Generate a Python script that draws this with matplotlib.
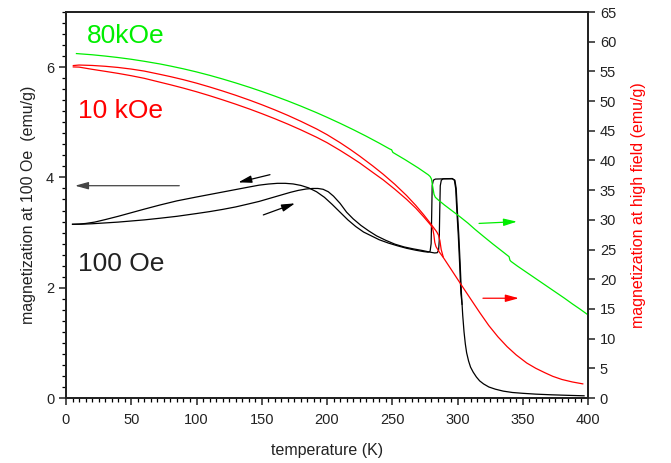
import numpy as np
import matplotlib
matplotlib.use("Agg")
from matplotlib import pyplot as plt
from matplotlib.ticker import MultipleLocator

plt.rcParams['font.family'] = ['Liberation Sans', 'DejaVu Sans']

# DATA ---------------------------------------------------------------
# 100 Oe, cooling branch (left axis)
t_cool = [5, 10, 15, 22, 30, 40, 50, 60, 72, 85, 100, 110, 120, 130, 140, 148,
          155, 162, 168, 174, 180, 186, 192, 198, 204, 210, 216, 222, 228, 234,
          240, 247, 254, 261, 268, 274, 277.5, 279, 279.8, 280.2, 280.6, 281.5,
          283, 290, 296, 298, 299, 300, 301, 302, 303, 304, 305, 306, 307, 308.5,
          310, 312, 314.5, 317, 320, 324, 329, 335, 342, 350, 360, 372, 385, 397]
m_cool = [3.15, 3.155, 3.165, 3.19, 3.235, 3.295, 3.36, 3.425, 3.50, 3.575, 3.645,
          3.69, 3.735, 3.78, 3.825, 3.86, 3.88, 3.893, 3.893, 3.882, 3.855, 3.81,
          3.74, 3.64, 3.51, 3.37, 3.23, 3.11, 3.01, 2.94, 2.87, 2.81, 2.76, 2.715,
          2.68, 2.655, 2.645, 2.66, 2.80, 3.30, 3.85, 3.95, 3.97, 3.975, 3.975,
          3.95, 3.80, 3.35, 2.95, 2.45, 1.90, 1.50, 1.20, 0.98, 0.82, 0.67, 0.56,
          0.47, 0.38, 0.31, 0.255, 0.20, 0.16, 0.125, 0.10, 0.085, 0.07, 0.058,
          0.048, 0.04]

# 100 Oe, warming branch (left axis)
t_warm = [5, 12, 20, 30, 40, 50, 60, 72, 85, 100, 110, 120, 130, 140, 148, 156,
          164, 172, 178, 184, 189, 193, 197, 201, 205, 210, 215, 220, 226, 232,
          238, 245, 252, 259, 266, 273, 279, 282.5, 284.5, 285.5, 286, 286.4,
          286.8, 287.6, 289, 296, 297.6, 298.6, 299.6, 300.6, 301.6, 302.6, 303.5]
m_warm = [3.15, 3.152, 3.16, 3.175, 3.19, 3.21, 3.23, 3.26, 3.295, 3.345, 3.38,
          3.42, 3.465, 3.52, 3.565, 3.62, 3.675, 3.73, 3.765, 3.79, 3.80, 3.80,
          3.785, 3.74, 3.66, 3.53, 3.37, 3.25, 3.13, 3.03, 2.94, 2.86, 2.79, 2.74,
          2.705, 2.675, 2.645, 2.63, 2.635, 2.68, 2.85, 3.40, 3.85, 3.95, 3.975,
          3.98, 3.95, 3.80, 3.35, 2.95, 2.45, 1.90, 1.70]

# 10 kOe, branch A and branch B with shared tail (right axis)
t_10a = [5.6, 10, 20, 30, 40, 50, 60, 72, 80, 90, 100, 110, 120, 130, 141, 150,
         160, 170, 180, 192, 200, 210, 217.6, 225, 235, 243, 252, 261, 268, 274,
         278, 280, 282, 284, 285.5, 286.5, 287.5, 289]
m_10a = [55.98, 56.07, 56.0, 55.86, 55.66, 55.39, 55.05, 54.5, 54.12, 53.6, 53.02,
         52.38, 51.7, 50.98, 50.13, 49.39, 48.52, 47.59, 46.59, 45.31, 44.35, 43.0,
         41.89, 40.74, 39.09, 37.69, 35.98, 34.09, 32.44, 30.88, 29.76, 29.18,
         28.6, 28.0, 27.4, 26.5, 25.0, 23.8]
t_10b = [5.6, 10, 20, 30, 40, 50, 60, 72, 80, 90, 100, 110, 120, 130, 141, 150,
         160, 170, 180, 192, 200, 210, 217.6, 225, 235, 243, 252, 261, 268, 274,
         278, 280, 281, 281.8, 282.6, 283.5, 286, 289, 295, 302, 310, 317, 324,
         331, 338, 345, 353, 360, 367, 373, 380, 388, 396]
m_10b = [55.75, 55.72, 55.35, 55.01, 54.66, 54.27, 53.83, 53.18, 52.75, 52.18,
         51.57, 50.91, 50.21, 49.48, 48.63, 47.89, 47.03, 46.12, 45.15, 43.91,
         43.0, 41.7, 40.65, 39.59, 38.0, 36.74, 35.15, 33.45, 31.98, 30.53, 29.5,
         28.98, 28.5, 27.6, 26.2, 25.5, 24.6, 23.7, 21.7, 19.35, 16.7, 14.4, 12.2,
         10.3, 8.65, 7.25, 5.9, 5.0, 4.25, 3.65, 3.12, 2.7, 2.38]

# 80 kOe (right axis)
t_80 = [8, 20, 30, 40, 50, 60, 72, 80, 90, 100, 110, 120, 130, 141, 150, 160,
        170, 180, 192, 200, 210, 220, 230, 240, 248, 249.5, 250.5, 260, 270,
        277.5, 279, 280, 281, 282, 283, 285, 290, 296, 302, 308, 313.4, 320, 327,
        334, 339.5, 340.2, 341, 346, 352, 358, 364, 370, 376, 382, 388, 394, 400]
m_80 = [58.0, 57.8, 57.58, 57.33, 57.04, 56.7, 56.25, 55.9, 55.43, 54.91, 54.34,
        53.72, 53.06, 52.29, 51.62, 50.84, 50.02, 49.15, 48.05, 47.27, 46.26,
        45.2, 44.09, 42.92, 41.94, 41.8, 41.35, 40.11, 38.73, 37.6, 37.3, 36.9,
        35.6, 34.3, 33.8, 33.4, 32.5, 31.5, 30.5, 29.45, 28.4, 27.2, 25.95, 24.75,
        23.8, 23.2, 23.0, 22.2, 21.3, 20.4, 19.5, 18.6, 17.7, 16.8, 15.85, 14.95,
        14.0]

GREEN = "#00ee00"
RED = "#ff0000"
DARK = "#222222"

# FIGURE --------------------------------------------------------------
fig = plt.figure(figsize=(6.71, 4.63), dpi=100)
ax = fig.add_axes([66 / 671, 65 / 463, 522 / 671, 386 / 463])
ax2 = ax.twinx()

lw = 0.9
ax.plot(t_cool, m_cool, "k-", lw=lw)
ax.plot(t_warm, m_warm, "k-", lw=lw)
ax2.plot(t_10a, m_10a, color=RED, lw=lw)
ax2.plot(t_10b, m_10b, color=RED, lw=lw)
ax2.plot(t_80, m_80, color=GREEN, lw=lw)

ax.set_xlim(0, 400)
ax.set_ylim(0, 7)
ax2.set_ylim(0, 65)

ax.xaxis.set_major_locator(MultipleLocator(50))
ax.xaxis.set_minor_locator(MultipleLocator(5))
ax.yaxis.set_major_locator(MultipleLocator(2))
ax.yaxis.set_minor_locator(MultipleLocator(0.2))
ax2.yaxis.set_major_locator(MultipleLocator(5))

for a in (ax, ax2):
    for s in a.spines.values():
        s.set_linewidth(1.3)
        s.set_color(DARK)
ax.tick_params(which="major", direction="out", length=5, width=1.1,
               labelsize=10.5, colors=DARK, top=False, right=False)
ax.tick_params(axis="x", which="major", pad=6)
ax.tick_params(which="minor", direction="out", length=3, width=0.9,
               top=False, right=False)
ax2.tick_params(which="major", direction="out", length=5, width=1.1,
                labelsize=10.5, colors=DARK)

ax.set_xlabel("temperature (K)", fontsize=11.5, color=DARK, labelpad=11)
ax.set_ylabel("magnetization at 100 Oe  (emu/g)", fontsize=11.5, color=DARK,
              labelpad=7)
ax2.set_ylabel("magnetization at high field (emu/g)", fontsize=11.5, color=RED,
               labelpad=11)

# LABELS --------------------------------------------------------------
ax.text(16, 6.43, "80kOe", color=GREEN, fontsize=19)
ax.text(9, 5.07, "10 kOe", color=RED, fontsize=19)
ax.text(9, 2.31, "100 Oe", color=DARK, fontsize=19)

# ARROWS --------------------------------------------------------------
def arrow(a, tail, head, color):
    a.annotate("", xy=head, xytext=tail,
               arrowprops=dict(arrowstyle="-|>,head_length=0.8,head_width=0.22",
                               color=color, lw=0.9, shrinkA=0, shrinkB=0,
                               mutation_scale=10))

arrow(ax, (86.8, 3.85), (6.9, 3.85), "#444444")
arrow(ax, (156.3, 4.05), (132, 3.91), "k")
arrow(ax, (151.2, 3.32), (175.5, 3.53), "k")
arrow(ax2, (316.5, 29.4), (345.6, 29.7), GREEN)
arrow(ax2, (319.5, 16.8), (347, 16.8), RED)

plt.savefig("out.png", dpi=100)
